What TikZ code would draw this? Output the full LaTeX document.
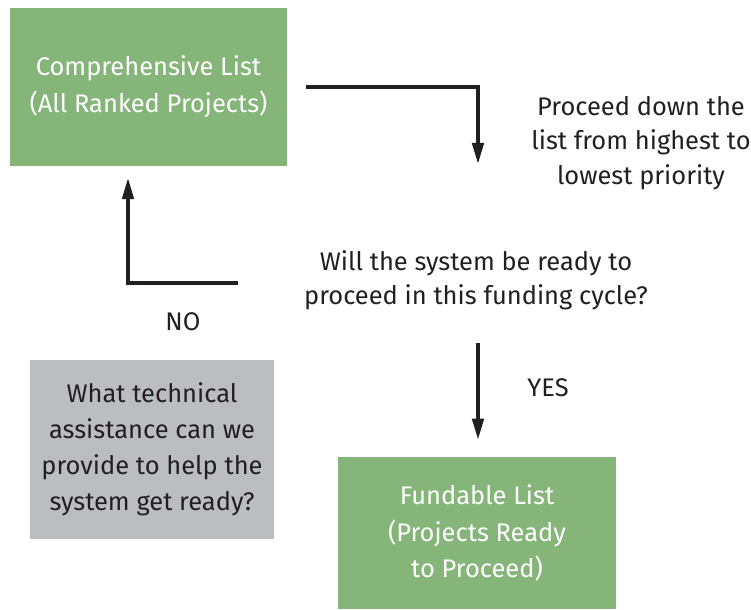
\documentclass[tikz,border=0pt]{standalone}
\usepackage{fontspec}
\setmainfont{Fira Sans}
\usetikzlibrary{positioning,arrows.meta}
\definecolor{ListGreen}{HTML}{86B57A}
\definecolor{HelpGray}{HTML}{BCBDC1}
\definecolor{InkBlack}{HTML}{231F20}

\tikzset{
  listbox/.style={fill=ListGreen,text=white,align=center,inner sep=0pt,
    minimum width=5.56cm,minimum height=3.04cm,font=\fontsize{14.5}{21}\selectfont},
  helpbox/.style={fill=HelpGray,text=InkBlack,align=center,inner sep=0pt,
    minimum width=4.88cm,minimum height=3.58cm,font=\fontsize{14.5}{20.5}\selectfont},
  plain/.style={text=InkBlack,align=center,inner sep=0pt,font=\fontsize{14.5}{19.5}\selectfont},
  flow/.style={draw=InkBlack,line width=2pt,-{Triangle[length=12pt,width=6.5pt]}}
}

\begin{document}
\begin{tikzpicture}[x=0.02cm,y=-0.02cm]
    \useasboundingbox (0,0) rectangle (751,609);
    % boxes
    \node[listbox,minimum height=3.16cm] (comp) at (148.5,87)
      {Comprehensive List\\(All Ranked Projects)};
    \node[plain] (ready) at (476,280)
      {Will the system be ready to\\proceed in this funding cycle?};
    \node[plain] (down) at (641,143)
      {Proceed down the\\list from highest to\\lowest priority};
    \node[helpbox] (help) at (152,449.5)
      {What technical\\assistance can we\\provide to help the\\system get ready?};
    \node[listbox] (fund) at (477,533)
      {Fundable List\\(Projects Ready\\to Proceed)};
    % connectors
    \coordinate (asktip) at (478,164);
    \coordinate (yestop) at (478,343);
    \coordinate (nostart) at (238,283);
    \coordinate (noend) at (128,178);
    \draw[flow] ([xshift=0.36cm]comp.east) -| (asktip);
    \draw[flow] (nostart) -| (noend);
    \draw[flow] (yestop) -- ([yshift=0.34cm]fund.north -| yestop);
    \node[plain] (no) at (183,322) {NO};
    \node[plain] (yes) at (548,388) {YES};
\end{tikzpicture}
\end{document}
